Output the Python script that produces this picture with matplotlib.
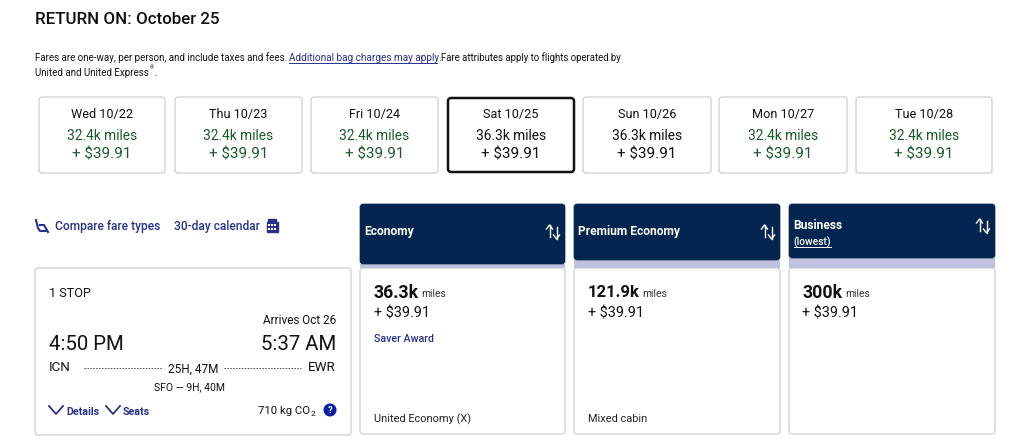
import matplotlib.pyplot as plt
from matplotlib.patches import FancyBboxPatch, Rectangle, Circle

plt.rcParams["font.family"] = ["Roboto", "DejaVu Sans"]

days = ["Wed 10/22", "Thu 10/23", "Fri 10/24", "Sat 10/25", "Sun 10/26", "Mon 10/27", "Tue 10/28"]
day_miles = ["32.4k miles", "32.4k miles", "32.4k miles", "36.3k miles", "36.3k miles", "32.4k miles", "32.4k miles"]
day_price = "+ $39.91"
day_left = [39, 175, 311, 448, 583, 719, 856]
day_right = [165, 302, 438, 574, 711, 847, 992]
green_days = [True, True, True, False, False, True, True]

cabins = ["Economy", "Premium Economy", "Business"]
cabin_miles = ["36.3k", "121.9k", "300k"]
cabin_notes = ["United Economy (X)", "Mixed cabin", ""]
cabin_left = [360, 574, 789]
cabin_right = [565, 780, 995]
cabin_head_bottom = [264, 260, 258]

BLACK = "#111111"
GREEN = "#1c5a2c"
NAVY = "#03254f"
BLUE = "#27318b"
EDGE = "#d2d3d6"
LAV = "#c0c1de"


def px(size):
    # pixel height to points at dpi 100
    return size * 0.72


fig = plt.figure(figsize=(10.24, 4.41), dpi=100)
ax = fig.add_axes([0, 0, 1, 1])
ax.set_xlim(0, 1024)
ax.set_ylim(441, 0)
ax.axis("off")


def box(x0, y0, x1, y1, fc="white", ec=EDGE, lw=1.0, r=3, z=1):
    p = FancyBboxPatch((x0 + r, y0 + r), x1 - x0 - 2 * r, y1 - y0 - 2 * r,
                       boxstyle="round,pad=%d,rounding_size=%d" % (r, r),
                       fc=fc, ec=ec, lw=lw, zorder=z)
    ax.add_patch(p)


def txt(x, y, s, size, color=BLACK, ha="left", **kw):
    return ax.text(x, y + 0.8, s, fontsize=px(size), color=color, ha=ha, va="center", zorder=5, **kw)


def right_edge(t):
    # right end of a text in pixels
    fig.canvas.draw()
    return t.get_window_extent().x1


def swap_icon(x, y, color="white"):
    for dx, tip, tail, back in [(-3.5, y - 7, y + 5, y - 3), (3.5, y + 7, y - 5, y + 3)]:
        ax.plot([x + dx, x + dx], [tail, tip], color=color, lw=1, zorder=6)
        ax.plot([x + dx - 3, x + dx, x + dx + 3], [back, tip, back], color=color, lw=1, zorder=6)


def chevron(x, y):
    ax.plot([x - 7, x, x + 7], [y - 4, y + 4, y - 4], color=BLUE, lw=1.3, zorder=5)


# header
txt(35, 19, "RETURN ON: October 25", 16.9, weight="medium")
txt(35, 57, "Fares are one-way, per person, and include taxes and fees.", 9.8)
txt(289, 57, "Additional bag charges may apply.", 10, color=BLUE)
ax.plot([289, 437], [63, 63], color=BLUE, lw=0.7, zorder=5)
txt(441, 57, "Fare attributes apply to flights operated by", 9.7)
t = txt(35, 72, "United and United Express", 9.8)
r = right_edge(t)
t = txt(r + 0.5, 67, "®", 5.5)
txt(right_edge(t) + 0.5, 72, ".", 9.8)

# date cards
for i, d in enumerate(days):
    x0, x1 = day_left[i], day_right[i]
    cx = (x0 + x1) / 2
    c = GREEN if green_days[i] else BLACK
    if d == "Sat 10/25":
        box(x0, 98, x1, 172, ec="#111111", lw=1.8, z=2)
    else:
        box(x0, 97, x1, 173)
    txt(cx, 114, d, 12.6, ha="center")
    txt(cx, 135, day_miles[i], 13.8, color=c, ha="center")
    txt(cx, 154, day_price, 15.2, color=c, ha="center")

# links above flight card
ax.plot([36, 38, 40, 46], [220, 228, 231, 231], color=BLUE, lw=1.5, zorder=5)
ax.plot([40, 44, 48], [225, 225, 232], color=BLUE, lw=1.5, zorder=5)
txt(55, 226, "Compare fare types", 12, color=BLUE, weight="medium")
txt(174, 226, "30-day calendar", 12, color=BLUE, weight="medium")
ax.add_patch(Rectangle((266.5, 222), 11, 10, fc=BLUE, ec=BLUE, zorder=5))
ax.add_patch(Rectangle((268, 219), 8, 2, fc=BLUE, ec=BLUE, zorder=5))
for gx in [269, 272, 275]:
    for gy in [225, 229]:
        ax.add_patch(Rectangle((gx - 0.8, gy - 0.8), 1.6, 1.6, fc="white", ec="none", zorder=6))

# flight card
box(35, 268, 351, 435)
txt(49, 293, "1 STOP", 12.6)
txt(336, 320, "Arrives Oct 26", 11.8, ha="right")
txt(49, 344, "4:50 PM", 20.4)
txt(336, 344, "5:37 AM", 20.4, ha="right")
txt(49, 367, "ICN", 13.4)
txt(336, 367, "EWR", 13.4, ha="right")
txt(193, 368, "25H, 47M", 11.8, ha="center")
ax.plot([84, 162], [368, 368], color="#444444", lw=0.7, ls=(0, (1.5, 1.5)), zorder=5)
ax.plot([224, 301], [368, 368], color="#444444", lw=0.7, ls=(0, (1.5, 1.5)), zorder=5)
txt(189, 386, "SFO — 9H, 40M", 10.4, ha="center")
chevron(56, 410)
txt(66, 411, "Details", 10.6, color=BLUE, weight="bold")
chevron(113, 410)
txt(123, 411, "Seats", 10.6, color=BLUE, weight="bold")
t = txt(258, 410, "710 kg CO", 11.4)
txt(right_edge(t) + 0.5, 413, "2", 8.5)
ax.add_patch(Circle((330, 410), 6.5, fc="#0a1fa8", ec="none", zorder=5))
ax.text(330, 410.5, "?", fontsize=px(9.5), color="white", ha="center", va="center", weight="bold", zorder=6)

# cabin columns
for i, name in enumerate(cabins):
    x0, x1 = cabin_left[i], cabin_right[i]
    bottom = cabin_head_bottom[i]
    box(x0, 268, x1, 434, z=1)
    ax.add_patch(Rectangle((x0, bottom), x1 - x0, 268 - bottom, fc=LAV, ec="none", zorder=2))
    box(x0, 204, x1, bottom, fc=NAVY, ec=NAVY, lw=0.5, z=3)
    tx = x0 + 4.5
    if name == "Business":
        txt(tx, 225, name, 12, color="white", weight="bold")
        txt(tx, 241, "(lowest)", 10.2, color="white", weight="medium")
        ax.plot([tx, tx + 37], [247, 247], color="white", lw=0.7, zorder=5)
        swap_icon(x1 - 12, 226)
    else:
        txt(tx, 231, name, 12, color="white", weight="bold")
        swap_icon(x1 - 12, 232)
    mx = x0 + 13.5
    m = txt(mx, 292, cabin_miles[i], 16.6 if i == 1 else 17.6, weight="bold")
    txt(right_edge(m) + 3, 293, "miles", 10.2, color="#333333")
    txt(mx, 313, "+ $39.91", 14.4)
    if cabin_notes[i]:
        txt(mx, 418, cabin_notes[i], 11, color="#222222")
txt(373.5, 338, "Saver Award", 10.6, color=BLUE, weight="medium")

fig.savefig("out.png", dpi=100)
